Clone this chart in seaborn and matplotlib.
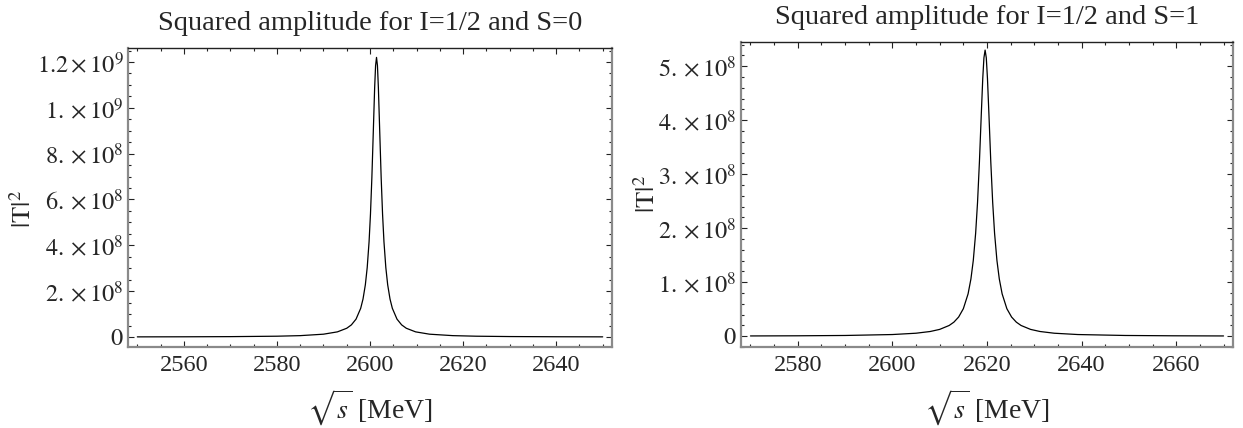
import matplotlib
matplotlib.use("Agg")
import matplotlib.pyplot as plt
import seaborn as sns
import pandas as pd
from matplotlib.ticker import FixedLocator, MultipleLocator

# |T|^2 versus sqrt(s) for I=1/2, S=0
sqrt_s_s0 = [2550, 2560, 2570, 2580, 2585, 2590, 2593, 2595, 2596, 2597, 2598,
             2598.5, 2599, 2599.4, 2599.8, 2600.1, 2600.4, 2600.7, 2601.0,
             2601.2, 2601.4, 2601.6, 2601.8, 2602.1, 2602.4, 2602.7, 2603.0,
             2603.4, 2603.8, 2604.3, 2604.8, 2605.8, 2606.8, 2607.8, 2609.8,
             2612.8, 2617.8, 2622.8, 2630, 2640, 2650]
t2_s0 = [6.10e5, 9.41e5, 1.634e6, 3.51e6, 5.97e6, 1.229e7, 2.245e7, 3.816e7,
         5.293e7, 7.80e7, 1.2524e8, 1.658e8, 2.278e8, 3.031e8, 4.155e8,
         5.356e8, 6.948e8, 8.902e8, 1.0883e9, 1.1842e9, 1.22e9, 1.1842e9,
         1.0883e9, 8.902e8, 6.948e8, 5.356e8, 4.155e8, 3.031e8, 2.278e8,
         1.658e8, 1.2524e8, 7.80e7, 5.293e7, 3.816e7, 2.245e7, 1.229e7,
         5.97e6, 3.51e6, 1.969e6, 1.082e6, 6.83e5]

# |T|^2 versus sqrt(s) for I=1/2, S=1
sqrt_s_s1 = [2570, 2580, 2590, 2600, 2605, 2608, 2610, 2612, 2613, 2614, 2615,
             2616, 2616.6, 2617.1, 2617.6, 2618.0, 2618.4, 2618.8, 2619.1,
             2619.35, 2619.6, 2619.85, 2620.1, 2620.4, 2620.8, 2621.2, 2621.6,
             2622.1, 2622.6, 2623.2, 2624.2, 2625.2, 2626.2, 2627.2, 2629.2,
             2631.2, 2634.2, 2639.2, 2649.2, 2659.2, 2670]
t2_s1 = [4.84e5, 7.593e5, 1.3576e6, 3.087e6, 5.536e6, 8.717e6, 1.2631e7,
         1.987e7, 2.603e7, 3.548e7, 5.094e7, 7.840e7, 1.06e8, 1.403e8,
         1.908e8, 2.479e8, 3.232e8, 4.126e8, 4.770e8, 5.157e8, 5.30e8,
         5.157e8, 4.770e8, 4.126e8, 3.232e8, 2.479e8, 1.908e8, 1.403e8,
         1.06e8, 7.840e7, 5.094e7, 3.548e7, 2.603e7, 1.987e7, 1.2631e7,
         8.717e6, 5.536e6, 3.087e6, 1.3576e6, 7.593e5, 4.69e5]

titles = ["Squared amplitude for I=1/2 and S=0",
          "Squared amplitude for I=1/2 and S=1"]

xticks_s0 = [2560, 2580, 2600, 2620, 2640]
xticks_s1 = [2580, 2600, 2620, 2640, 2660]

yticks_s0 = [0, 2e8, 4e8, 6e8, 8e8, 1e9, 1.2e9]
yticklabels_s0 = [r"$0$", r"$2.\times10^{8}$", r"$4.\times10^{8}$",
                  r"$6.\times10^{8}$", r"$8.\times10^{8}$",
                  r"$1.\times10^{9}$", r"$1.2\times10^{9}$"]
yticks_s1 = [0, 1e8, 2e8, 3e8, 4e8, 5e8]
yticklabels_s1 = [r"$0$", r"$1.\times10^{8}$", r"$2.\times10^{8}$",
                  r"$3.\times10^{8}$", r"$4.\times10^{8}$",
                  r"$5.\times10^{8}$"]

sns.set_style("ticks")
plt.rcParams["font.family"] = ["Liberation Serif", "DejaVu Serif"]
plt.rcParams["mathtext.fontset"] = "stix"

W, H = 1243, 428
fig = plt.figure(figsize=(W / 100, H / 100), dpi=100)


def px_axes(x0, x1, ytop, ybot):
    return fig.add_axes([x0 / W, (H - ybot) / H, (x1 - x0) / W, (ybot - ytop) / H])


ax0 = px_axes(128, 612, 48, 347)
ax1 = px_axes(741, 1233, 42, 347)

panels = [
    (ax0, sqrt_s_s0, t2_s0, titles[0], xticks_s0, yticks_s0, yticklabels_s0,
     (2548, 2652), (-4.36e7, 1.261e9), 5e7, (-0.190, 0.46)),
    (ax1, sqrt_s_s1, t2_s1, titles[1], xticks_s1, yticks_s1, yticklabels_s1,
     (2568, 2672), (-2.0e7, 5.45e8), 2e7, (-0.165, 0.50)),
]

for ax, xs, ys, title, xt, yt, ytl, xlim, ylim, yminor, ylab_pos in panels:
    df = pd.DataFrame({"sqrt_s": xs, "T2": ys})
    sns.lineplot(data=df, x="sqrt_s", y="T2", ax=ax, color="black",
                 linewidth=0.9, sort=False)
    ax.set_xlim(*xlim)
    ax.set_ylim(*ylim)
    ax.xaxis.set_major_locator(FixedLocator(xt))
    ax.set_xticklabels([str(v) for v in xt])
    ax.xaxis.set_minor_locator(MultipleLocator(5))
    ax.yaxis.set_major_locator(FixedLocator(yt))
    ax.set_yticklabels(ytl)
    ax.yaxis.set_minor_locator(MultipleLocator(yminor))
    ax.tick_params(which="both", direction="in", top=True, right=True,
                   color="#222222", width=0.8, labelsize=17.5)
    ax.tick_params(which="major", length=4.5)
    ax.tick_params(which="minor", length=2.3)
    ax.tick_params(axis="x", which="major", pad=6)
    ax.tick_params(axis="y", which="major", pad=3)
    for side in ["left", "bottom", "right"]:
        ax.spines[side].set_color("#8a8a8a")
        ax.spines[side].set_linewidth(1.6)
    ax.spines["top"].set_color("#222222")
    ax.spines["top"].set_linewidth(1.0)
    ax.set_title(title, fontsize=20.5, pad=13)
    ax.set_xlabel(r"$\sqrt{s}$ [MeV]", fontsize=20)
    ax.xaxis.set_label_coords(0.5, -0.135)
    ax.set_ylabel(r"$|\mathrm{T}|^{2}$", fontsize=19)
    ax.yaxis.set_label_coords(*ylab_pos)

fig.savefig("out.png", dpi=100)
